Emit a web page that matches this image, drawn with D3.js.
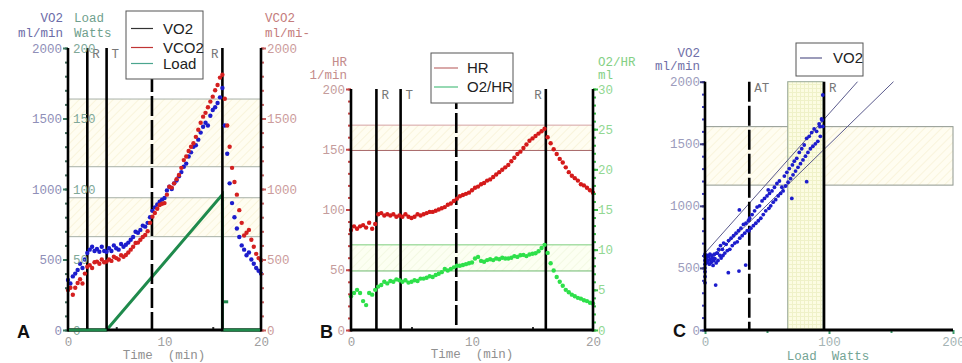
<!DOCTYPE html>
<html><head><meta charset="utf-8">
<script src="https://cdn.jsdelivr.net/npm/d3@7/dist/d3.min.js"></script>
<style>body{margin:0;background:#fff;} svg{display:block;}</style>
</head><body><svg id="c" width="962" height="363"></svg>
<script>
// ---------------- DATA ----------------
const times = [0,0.25,0.5,0.75,1,1.25,1.5,1.75,2,2.25,2.5,2.75,3,3.25,3.5,3.75,4,4.25,4.5,4.75,5,5.25,5.5,5.75,6,6.25,6.5,6.75,7,7.25,7.5,7.75,8,8.25,8.5,8.75,9,9.25,9.5,9.75,10,10.25,10.5,10.75,11,11.25,11.5,11.75,12,12.25,12.5,12.75,13,13.25,13.5,13.75,14,14.25,14.5,14.75,15,15.25,15.5,15.75,16,16.25,16.5,16.75,17,17.25,17.5,17.75,18,18.25,18.5,18.75,19,19.25,19.5,19.75,20];
const vo2A = [355,330,380,400, 426,470,440,500, 546,570,590,560, 575,555,590,560, 555,580,560,600, 580,570,610,590, 605,620,640,660, 697,690,710,740, 733,760,800,845, 870,890,910,925, 936,990,1016,1000, 1040,1060,1090,1120, 1158,1180,1230,1260, 1300,1310,1350,1400, 1442,1470,1450,1520, 1560,1580,1610,1650, 1716,1450,1250,1040, 900,800,720,660, 600,570,530,550, 500,470,440,420, 400];
const vco2A = [284,300,250,300, 333,360,330,400, 449,460,440,480, 485,470,500,480, 485,500,490,520, 510,500,530,520, 532,550,570,590, 617,620,640,660, 674,700,760,804, 830,860,887,895, 900,960,1016,1010, 1040,1070,1099,1150, 1205,1230,1270,1300, 1324,1370,1420,1470, 1513,1540,1580,1620, 1655,1700,1738,1790, 1810,1640,1450,1300, 1150,1050,960,850, 760,670,690,710, 640,590,540,510, 495];
const loadTimes = [0,4,16,16,20];
const loadWatts = [0,0,96,0,0];
const loadBlipTimes = [16.1,16.6];
const loadBlipWatts = [20,20];
const hrB = [83,86,84,86, 87,85,89,84, 88,96,97,95, 96,95,96,94, 95,94,96,94, 93,94,96,95, 96,97,98,98, 99,100,101,102, 104,105,107,109, 111,112,113,114, 116,118,119,121, 122,124,125,127, 129,131,133,135, 137,140,143,146, 148,151,154,157, 159,161,163,165, 167,160,155,150, 146,142,139,135, 131,128,126,124, 121,120,118,116, 114];
const o2hrB = [4.2,4.6,5.0,4.6, 3.6,3.1,4.6,4.4, 5.0,5.4,5.6,6.0, 5.8,6.1,6.0,6.3, 6.2,6.0,6.2,5.9, 6.0,6.2,6.1,6.4, 6.4,6.5,6.7,6.6, 6.85,7.0,7.2,7.6, 7.4,7.6,7.8,8.0, 8.0,8.1,8.2,8.3, 8.4,8.9,9.1,8.6, 8.5,8.7,8.8,8.7, 8.9,8.8,9.0,8.9, 8.9,9.0,9.2,9.1, 9.3,9.35,9.2,9.4, 9.5,9.55,9.8,10.2, 10.6,9.6,8.3,7.4, 6.6,6.0,5.5,5.0, 4.7,4.4,4.2,4.0, 3.9,3.7,3.6,3.4, 3.3];

const eventTimesA = [2,4,8.7,16];
const eventTimesB = [2.1,4.1,8.7,16.1];
const eventLabels = ["R","T","","R"];
const eventDashed = [false,false,true,false];
const eventLabelLeft = [false,false,false,true];
const vo2BandsA = [[1158,1638],[662,938]];
const hrBand = [149,170];
const o2hrBand = [7.35,10.6];

const vo2Ticks = [0,500,1000,1500,2000];
const loadTicksA = [0,50,100,150,200];
const hrTicks = [0,50,100,150,200];
const o2hrTicks = [0,5,10,15,20,25,30];
const timeTicks = [0,10,20];
const timeMinorTicks = [5,15];
const loadTicksC = [0,100,200];
const loadMinorTicksC = [50,150];

// Panel C scatter (load W, VO2 ml/min)
const loadC = [0,0,0,0,0,0,0,0, 1,1.5,2,2.5,3,3.5,4,4.5,5,5.5,6,6.5,7,7.5,8,8.6,9,9.5, 10,10.5,11,12,12.5,13,14,14.5,15,16,17,18,18.8,19,20,21,22,23,24,25,26,27,27.4,27.7,28,29,30,31,32,32.8,33,34, 35,35.5,36,37,38,39,40,41,42,43,44,45,46,47,48,49,50,51,51.5, 52,53,54,55,56,57,58,59,60,61,62,63,64,65,66,67,68,69,70, 70.5, 71,72,73,74,75,76,77,78,79,80,81,82, 82, 83,84,85,86,87,88,89,90,91,92, 92.7,93,94,94.4,95,95];
const vo2C  = [560,590,530,610,500,470,430,380, 580,545,600,560,590,530,610,570,545,600,580,520,560,610,575,362,540,620, 620,560,650,600,680,580,650,600,700,620,690,640,462,720,650,740,680,760,700,780,710,800,475,967,740,820,760,850,780,523,860,800, 880,800,900,820,930,840,960,860,990,880,1000,900,1040,930,1060,960,1080,1128,980, 1100,1000,1120,1030,1150,1050,1180,1080,1200,1100,1150,1120,1240,1160,1270,1190,1300,1220,1060, 1330, 1250,1360,1280,1383,1310,1430,1340,1460,1370,1490,1400,1544, 1195, 1430,1560,1460,1590,1480,1620,1500,1600,1520,1660, 1638,1560,1700,1691,1640,1893];
const vo2BandC = [1167,1638];
const loadBandC = [66.7,95];
const atLoadC = 35.7;
const rLoadC = 96;
const regLine1Load = [0,123], regLine1VO2 = [620,2000];
const regLine2Load = [0,152], regLine2VO2 = [520,2000];

// ---------------- DRAW ----------------
const svg = d3.select("#c");
const MONO = "'Liberation Mono','Courier New',monospace";
const SANS = "'Liberation Sans Narrow','Arial Narrow','Liberation Sans',Arial,sans-serif";
const BOLD = "'Liberation Sans',Arial,sans-serif";
const fmt = d3.format("d");

const defs = svg.append("defs");
function hatch(id, bg, fg) {
  const p = defs.append("pattern").attr("id", id).attr("patternUnits","userSpaceOnUse")
    .attr("width",6).attr("height",6).attr("patternTransform","rotate(45)");
  p.append("rect").attr("width",6).attr("height",6).attr("fill",bg);
  p.append("line").attr("x1",0).attr("y1",0).attr("x2",0).attr("y2",6).attr("stroke",fg).attr("stroke-width",1.5);
}
hatch("hY", "#fffdf1", "#f8f1d6");
hatch("hG", "#fcfff2", "#f1f8de");
const gp = defs.append("pattern").attr("id","gY").attr("patternUnits","userSpaceOnUse").attr("width",4).attr("height",4);
gp.append("rect").attr("width",4).attr("height",4).attr("fill","#fcfce2");
gp.append("path").attr("d","M0 0.5H4M0.5 0V4").attr("stroke","#eff1c8").attr("stroke-width",1);

function txt(g, x, y, s, color, anchor, font, size, weight) {
  return g.append("text").attr("x",x).attr("y",y).text(s).attr("fill",color)
    .attr("text-anchor",anchor||"start").style("font-family",font||MONO)
    .style("font-size",(size||12.5)+"px").style("font-weight",weight||"normal").style("white-space","pre");
}
function styleAxis(sel, tickColor, textColor, tickW) {
  sel.attr("font-family", MONO).attr("font-size", 12.5);
  sel.select(".domain").remove();
  sel.selectAll(".tick line").attr("stroke", tickColor).attr("stroke-width", tickW||2);
  sel.selectAll(".tick text").attr("fill", textColor);
  return sel;
}
function vline(g, x, y1, y2, dashed) {
  g.append("line").attr("x1",x).attr("x2",x).attr("y1",y1).attr("y2",y2)
    .attr("stroke","#000").attr("stroke-width",2.6).attr("stroke-dasharray", dashed ? "20,4" : null);
}
function hline(g, x1, x2, y, color) {
  g.append("line").attr("x1",x1).attr("x2",x2).attr("y1",y).attr("y2",y).attr("stroke",color).attr("stroke-width",1);
}
function dots(g, xs, ys, xScale, yScale, color, r) {
  g.append("g").selectAll("circle").data(xs.map((x,i)=>[x,ys[i]])).join("circle")
    .attr("cx", d=>xScale(d[0])).attr("cy", d=>yScale(d[1])).attr("r",r||2.2).attr("fill",color);
}
function events(g, times, xS, top, bottom, labelY) {
  times.forEach((t,i)=>{
    vline(g, xS(t), top, bottom, eventDashed[i]);
    if (eventLabels[i]) {
      if (eventLabelLeft[i]) txt(g, xS(t)-4, labelY, eventLabels[i], "#777", "end");
      else txt(g, xS(t)+5, labelY, eventLabels[i], "#777", "start");
    }
  });
}
function legend(g, x, y, w, h, items) {
  g.append("rect").attr("x",x).attr("y",y).attr("width",w).attr("height",h).attr("fill","#fff").attr("stroke","#555").attr("stroke-width",1);
  items.forEach(it=>{
    g.append("line").attr("x1",it.x1).attr("x2",it.x2).attr("y1",it.y).attr("y2",it.y).attr("stroke",it.color).attr("stroke-width",1.2);
    txt(g, it.tx, it.y+5, it.label, "#222", "start", SANS, 15);
  });
}

// ===== Panel A =====
const xA = d3.scaleLinear().domain([0,20]).range([68,261]);
const yA = d3.scaleLinear().domain([0,2000]).range([330,48]);
const yLoadA = d3.scaleLinear().domain([0,200]).range([330,48]);
const gA = svg.append("g");
vo2BandsA.forEach(b=>{
  gA.append("rect").attr("x",xA(0)).attr("width",xA(20)-xA(0)).attr("y",yA(b[1])).attr("height",yA(b[0])-yA(b[1])).attr("fill","url(#hY)");
  b.forEach(v=>hline(gA, xA(0), xA(20), yA(v), "#a7b0a7"));
});
const loadLine = d3.line().x(d=>xA(d[0])).y(d=>yLoadA(d[1]));
gA.append("path").datum(loadTimes.map((t,i)=>[t,loadWatts[i]]))
  .attr("d", loadLine).attr("fill","none").attr("stroke","#1f8a4c").attr("stroke-width",3);
gA.append("path").datum(loadBlipTimes.map((t,i)=>[t,loadBlipWatts[i]]))
  .attr("d", loadLine).attr("fill","none").attr("stroke","#1f8a4c").attr("stroke-width",3);
events(gA, eventTimesA, xA, yA(2000), yA(0), 58);
dots(gA, times, vo2A, xA, yA, "#1c1ccc");
dots(gA, times, vco2A, xA, yA, "#d42020");
// axes A
styleAxis(gA.append("g").attr("transform",`translate(${xA(0)},0)`).call(d3.axisLeft(yA).tickValues(d3.range(0,2001,100)).tickSize(3).tickFormat("")), "#3f6a5a", "#000");
styleAxis(gA.append("g").attr("transform",`translate(${xA(0)},0)`).call(d3.axisLeft(yA).tickValues(vo2Ticks).tickSize(5).tickPadding(1).tickFormat(fmt)), "#3f7a62", "#8f8fb8");
styleAxis(gA.append("g").attr("transform",`translate(${xA(0)},0)`).call(d3.axisRight(yLoadA).tickValues(loadTicksA).tickSize(0).tickPadding(5).tickFormat(fmt)), "#3f7a62", "#80a898");
styleAxis(gA.append("g").attr("transform",`translate(${xA(20)},0)`).call(d3.axisRight(yA).tickValues(d3.range(0,2001,100)).tickSize(3).tickFormat("")), "#c86060", "#000");
styleAxis(gA.append("g").attr("transform",`translate(${xA(20)},0)`).call(d3.axisRight(yA).tickValues(vo2Ticks).tickSize(5).tickPadding(1).tickFormat(fmt)), "#c86060", "#cc9c9c");
styleAxis(gA.append("g").attr("transform",`translate(0,${yA(0)})`).call(d3.axisBottom(xA).tickValues(timeTicks).tickSize(0).tickPadding(7).tickFormat(fmt)), "#333", "#a0a0a0");
styleAxis(gA.append("g").attr("transform",`translate(0,${yA(0)})`).call(d3.axisTop(xA).tickValues(timeMinorTicks).tickSize(3).tickFormat("")), "#333", "#000");
vline(gA, xA(0), yA(2000), yA(0)+1.5); vline(gA, xA(20), yA(2000), yA(0)+1.5);
gA.append("line").attr("x1",xA(0)).attr("x2",xA(20)).attr("y1",yA(0)).attr("y2",yA(0)).attr("stroke","#000").attr("stroke-width",3);
gA.append("line").attr("x1",xA(0)+1).attr("x2",xA(4)).attr("y1",yA(0)).attr("y2",yA(0)).attr("stroke","#1f8a4c").attr("stroke-width",2.5);
gA.append("line").attr("x1",xA(16)+1).attr("x2",xA(20)-1).attr("y1",yA(0)).attr("y2",yA(0)).attr("stroke","#1f8a4c").attr("stroke-width",2.5);
txt(gA, 63, 22, "VO2", "#6c6ca8", "end"); txt(gA, 63, 37, "ml/min", "#6c6ca8", "end");
txt(gA, 74, 22, "Load", "#6f9f8d"); txt(gA, 74, 37, "Watts", "#6f9f8d");
txt(gA, 265, 22, "VCO2", "#c47c7c"); txt(gA, 265, 37, "ml/mi-", "#c47c7c");
txt(gA, 164, 359, "Time  (min)", "#909090", "middle");
txt(gA, 17, 338, "A", "#111", "start", BOLD, 18, "bold");
legend(gA, 126, 11, 77, 68, [
  {x1:131,x2:153,y:28.5,tx:163,label:"VO2",color:"#333"},
  {x1:131,x2:153,y:47.5,tx:163,label:"VCO2",color:"#c03434"},
  {x1:131,x2:153,y:63.5,tx:163,label:"Load",color:"#4aa58e"}]);

// ===== Panel B =====
const xB = d3.scaleLinear().domain([0,20]).range([351,593]);
const yB = d3.scaleLinear().domain([0,200]).range([330,89]);
const yO2 = d3.scaleLinear().domain([0,30]).range([330,89]);
const gB = svg.append("g");
gB.append("rect").attr("x",xB(0)).attr("width",xB(20)-xB(0)).attr("y",yB(hrBand[1])).attr("height",yB(hrBand[0])-yB(hrBand[1])).attr("fill","url(#hY)");
hline(gB, xB(0), xB(20), yB(hrBand[1]), "#d6a4a4"); hline(gB, xB(0), xB(20), yB(hrBand[0]), "#a86868");
gB.append("rect").attr("x",xB(0)).attr("width",xB(20)-xB(0)).attr("y",yO2(o2hrBand[1])).attr("height",yO2(o2hrBand[0])-yO2(o2hrBand[1])).attr("fill","url(#hG)");
hline(gB, xB(0), xB(20), yO2(o2hrBand[1]), "#7ccf7c"); hline(gB, xB(0), xB(20), yO2(o2hrBand[0]), "#6cb86c");
events(gB, eventTimesB, xB, yB(200), yB(0), 99);
dots(gB, times, hrB, xB, yB, "#d41a1a");
dots(gB, times, o2hrB, xB, yO2, "#2ee04a");
styleAxis(gB.append("g").attr("transform",`translate(${xB(0)},0)`).call(d3.axisLeft(yB).tickValues(d3.range(0,201,10)).tickSize(3).tickFormat("")), "#c84848", "#000");
styleAxis(gB.append("g").attr("transform",`translate(${xB(0)},0)`).call(d3.axisLeft(yB).tickValues(hrTicks).tickSize(5).tickPadding(1).tickFormat(fmt)), "#c84848", "#c49c9c");
styleAxis(gB.append("g").attr("transform",`translate(${xB(20)},0)`).call(d3.axisRight(yO2).tickValues(d3.range(0,31,1)).tickSize(3).tickFormat("")), "#3cbf4a", "#000");
styleAxis(gB.append("g").attr("transform",`translate(${xB(20)},0)`).call(d3.axisRight(yO2).tickValues(o2hrTicks).tickSize(5).tickPadding(0).tickFormat(fmt)), "#3cbf4a", "#92d892");
styleAxis(gB.append("g").attr("transform",`translate(0,${yB(0)})`).call(d3.axisBottom(xB).tickValues(timeTicks).tickSize(0).tickPadding(7).tickFormat(fmt)), "#333", "#a0a0a0");
styleAxis(gB.append("g").attr("transform",`translate(0,${yB(0)})`).call(d3.axisTop(xB).tickValues(timeMinorTicks).tickSize(3).tickFormat("")), "#333", "#000");
vline(gB, xB(0), yB(200), yB(0)+1.5); vline(gB, xB(20), yB(200), yB(0)+1.5);
gB.append("line").attr("x1",xB(0)).attr("x2",xB(20)).attr("y1",yB(0)).attr("y2",yB(0)).attr("stroke","#000").attr("stroke-width",3);
txt(gB, 347, 66, "HR", "#c48c8c", "end"); txt(gB, 347, 79, "1/min", "#c48c8c", "end");
txt(gB, 598, 66, "O2/HR", "#84d084"); txt(gB, 598, 79, "ml", "#84d084");
txt(gB, 472, 358, "Time  (min)", "#909090", "middle");
txt(gB, 320, 338, "B", "#111", "start", BOLD, 18, "bold");
legend(gB, 431, 53, 82, 50, [
  {x1:434,x2:458,y:68,tx:467,label:"HR",color:"#c07070"},
  {x1:434,x2:458,y:87,tx:467,label:"O2/HR",color:"#50c080"}]);

// ===== Panel C =====
const xC = d3.scaleLinear().domain([0,200]).range([705,953]);
const yC = d3.scaleLinear().domain([0,2000]).range([330,81.7]);
const gC = svg.append("g");
gC.append("rect").attr("x",xC(0)).attr("width",xC(200)-xC(0)).attr("y",yC(vo2BandC[1])).attr("height",yC(vo2BandC[0])-yC(vo2BandC[1]))
  .attr("fill","url(#hY)").attr("stroke","#8f978f").attr("stroke-width",1);
gC.append("rect").attr("x",xC(loadBandC[0])).attr("width",xC(loadBandC[1])-xC(loadBandC[0])).attr("y",yC(2000)).attr("height",yC(0)-yC(2000))
  .attr("fill","url(#gY)").attr("stroke","#98a898").attr("stroke-width",1);
const regLine = d3.line().x(d=>xC(d[0])).y(d=>yC(d[1]));
gC.append("path").datum(regLine1Load.map((l,i)=>[l,regLine1VO2[i]])).attr("d",regLine).attr("stroke","#5a5a8c").attr("stroke-width",1).attr("fill","none");
gC.append("path").datum(regLine2Load.map((l,i)=>[l,regLine2VO2[i]])).attr("d",regLine).attr("stroke","#5a5a8c").attr("stroke-width",1).attr("fill","none");
vline(gC, xC(atLoadC), yC(2000), yC(0), true);
txt(gC, xC(atLoadC)+5, 92, "AT", "#777");
vline(gC, xC(rLoadC), yC(2000), yC(0), false);
txt(gC, xC(rLoadC)+5, 92, "R", "#777");
dots(gC, loadC, vo2C, xC, yC, "#1c1ccc", 1.9);
styleAxis(gC.append("g").attr("transform",`translate(${xC(0)},0)`).call(d3.axisLeft(yC).tickValues(d3.range(0,2001,100)).tickSize(3).tickFormat("")), "#3c3cc0", "#000");
styleAxis(gC.append("g").attr("transform",`translate(${xC(0)},0)`).call(d3.axisLeft(yC).tickValues(vo2Ticks).tickSize(5).tickPadding(0).tickFormat(fmt)), "#3c3c80", "#9c9cbc");
styleAxis(gC.append("g").attr("transform",`translate(0,${yC(0)})`).call(d3.axisBottom(xC).tickValues(loadTicksC).tickSize(4).tickPadding(3).tickFormat(fmt)), "#3a9a6a", "#a4b4b4");
styleAxis(gC.append("g").attr("transform",`translate(0,${yC(0)})`).call(d3.axisBottom(xC).tickValues(loadMinorTicksC).tickSize(3).tickFormat("")), "#3a9a6a", "#000");
vline(gC, xC(0), yC(2000), yC(0)+1.5);
gC.append("line").attr("x1",xC(0)).attr("x2",xC(200)).attr("y1",yC(0)).attr("y2",yC(0)).attr("stroke","#000").attr("stroke-width",3);
txt(gC, 700, 57, "VO2", "#7070a8", "end"); txt(gC, 700, 70, "ml/min", "#7070a8", "end");
txt(gC, 828, 360, "Load  Watts", "#74a494", "middle");
txt(gC, 673, 337, "C", "#111", "start", BOLD, 18, "bold");
legend(gC, 796, 43, 67, 33, [
  {x1:800,x2:822,y:58,tx:833,label:"VO2",color:"#5a5a8c"}]);
</script></body></html>
